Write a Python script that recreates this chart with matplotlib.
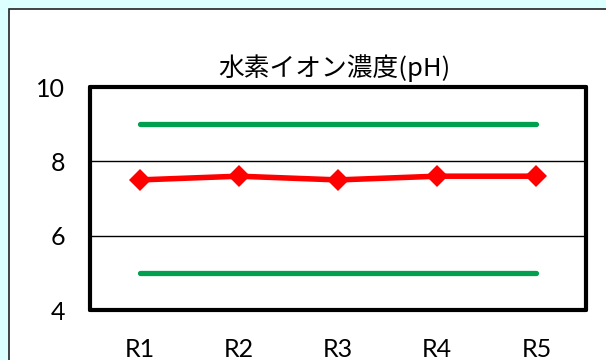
import numpy as np
import matplotlib
matplotlib.use("Agg")
import matplotlib.pyplot as plt
from matplotlib.patches import Rectangle

# data
sites = ["R1", "R2", "R3", "R4", "R5"]
ph_values = [7.5, 7.6, 7.5, 7.6, 7.6]
upper_limit = [9.0, 9.0, 9.0, 9.0, 9.0]
lower_limit = [5.0, 5.0, 5.0, 5.0, 5.0]
yticks = [4, 6, 8, 10]

W, H = 606, 360
fig = plt.figure(figsize=(W / 100, H / 100), dpi=100)
fig.patch.set_facecolor("#DCFFFF")

# white chart panel, cut off by the right and bottom edges
fig.patches.append(Rectangle((8.5 / W, -0.1), 1.2, 1.1 - 9.5 / H,
                             transform=fig.transFigure, facecolor="white",
                             edgecolor="#222222", linewidth=1.2, zorder=-1))

ax = fig.add_axes([90 / W, 1 - 310 / H, (586 - 90) / W, (310 - 87) / H])
ax.set_facecolor("white")
x = np.arange(len(sites))

for yl in (6, 8):
    ax.axhline(yl, color="black", linewidth=1.0, zorder=1)

ax.plot(x, upper_limit, color="#00A050", linewidth=3.8, solid_capstyle="round", zorder=2)
ax.plot(x, lower_limit, color="#00A050", linewidth=3.8, solid_capstyle="round", zorder=2)
ax.plot(x, ph_values, color="#FF0000", linewidth=4.0, marker="D", markersize=11,
        markeredgewidth=0, zorder=3)

ax.set_xlim(-0.5, 4.5)
ax.set_ylim(4, 10)
ax.set_yticks(yticks)
ax.set_xticks(x)
ax.set_xticklabels(sites)
ax.tick_params(axis="both", length=0, labelsize=18)
ax.tick_params(axis="y", pad=18)
ax.tick_params(axis="x", pad=20)
for lab in ax.get_xticklabels() + ax.get_yticklabels():
    lab.set_family(["Lato", "DejaVu Sans"])

for s in ax.spines.values():
    s.set_linewidth(3.0)
    s.set_color("black")
    s.set_joinstyle("round")
    s.set_capstyle("round")

fig.text(334 / W, 1 - 68 / H, "水素イオン濃度(pH)", ha="center", va="center",
         fontsize=18.5, family=["Noto Sans CJK JP", "DejaVu Sans"])

fig.savefig("out.png", dpi=100, facecolor=fig.get_facecolor())
